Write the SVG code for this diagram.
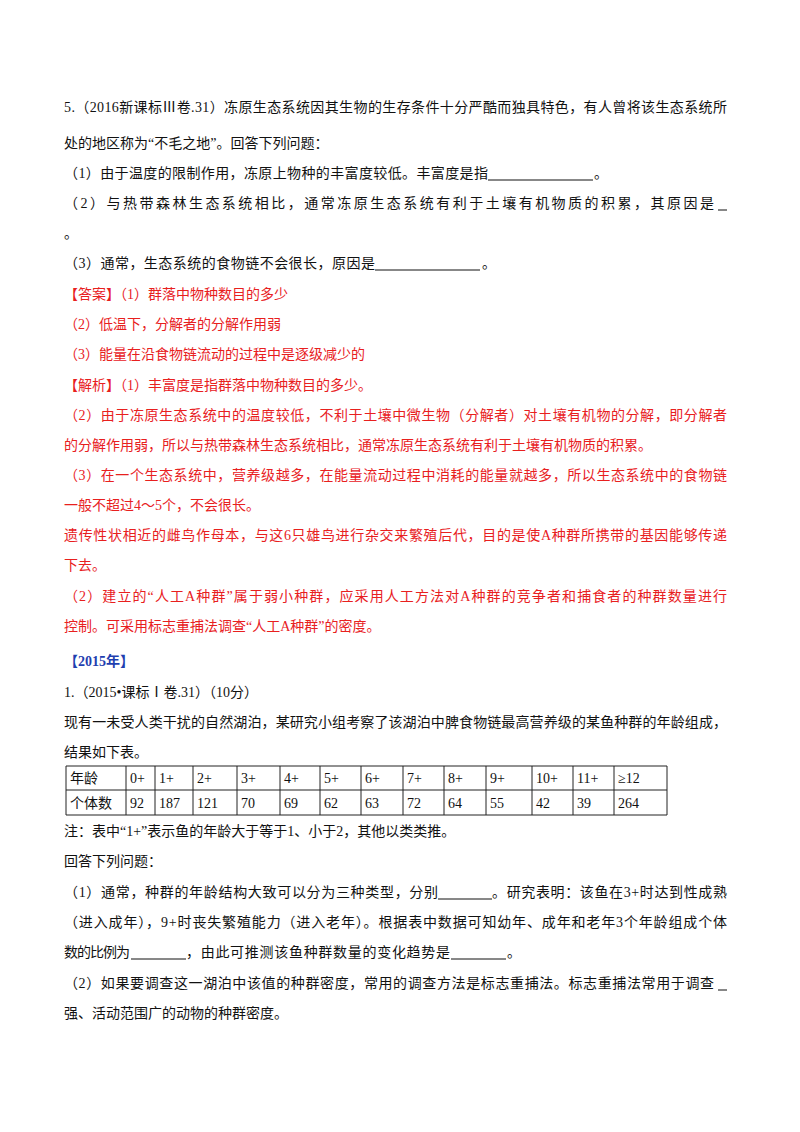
<svg xmlns="http://www.w3.org/2000/svg" width="800" height="1132" viewBox="0 0 800 1132">
<style>
text{font-family:"Liberation Serif","Noto Sans CJK SC",serif;font-size:14px;fill:#111}
.r{fill:#e8201e}
.b{fill:#1f3fb0;font-weight:bold}
.t line{stroke:#222;stroke-width:1}
.u{stroke:#111;stroke-width:1}
</style>
<rect width="800" height="1132" fill="#fff"/>
<g id="q2016">
<text x="64" y="112" textLength="663" lengthAdjust="spacing">5.（2016新课标Ⅲ卷.31）冻原生态系统因其生物的生存条件十分严酷而独具特色，有人曾将该生态系统所</text>
<text x="64" y="148">处的地区称为“不毛之地”。回答下列问题：</text>
<text x="64" y="178" textLength="424" lengthAdjust="spacing">（1）由于温度的限制作用，冻原上物种的丰富度较低。丰富度是指</text>
<line class="u" x1="488" y1="180" x2="593" y2="180"/><text x="594" y="178">。</text>
<text x="64" y="208" textLength="650" lengthAdjust="spacing">（2）与热带森林生态系统相比，通常冻原生态系统有利于土壤有机物质的积累，其原因是</text>
<line class="u" x1="718" y1="210" x2="727" y2="210"/>
<text x="64" y="238">。</text>
<text x="64" y="268" textLength="311" lengthAdjust="spacing">（3）通常，生态系统的食物链不会很长，原因是</text>
<line class="u" x1="375" y1="270" x2="480" y2="270"/><text x="482" y="268">。</text>
</g>
<g id="answer">
<text class="r" x="64" y="299">【答案】（1）群落中物种数目的多少</text>
<text class="r" x="64" y="329">（2）低温下，分解者的分解作用弱</text>
<text class="r" x="64" y="359">（3）能量在沿食物链流动的过程中是逐级减少的</text>
<text class="r" x="64" y="390">【解析】（1）丰富度是指群落中物种数目的多少。</text>
<text class="r" x="64" y="420" textLength="663" lengthAdjust="spacing">（2）由于冻原生态系统中的温度较低，不利于土壤中微生物（分解者）对土壤有机物的分解，即分解者</text>
<text class="r" x="64" y="450">的分解作用弱，所以与热带森林生态系统相比，通常冻原生态系统有利于土壤有机物质的积累。</text>
<text class="r" x="64" y="480" textLength="663" lengthAdjust="spacing">（3）在一个生态系统中，营养级越多，在能量流动过程中消耗的能量就越多，所以生态系统中的食物链</text>
<text class="r" x="64" y="510">一般不超过4～5个，不会很长。</text>
<text class="r" x="64" y="540" textLength="663" lengthAdjust="spacing">遗传性状相近的雌鸟作母本，与这6只雄鸟进行杂交来繁殖后代，目的是使A种群所携带的基因能够传递</text>
<text class="r" x="64" y="570">下去。</text>
<text class="r" x="64" y="601" textLength="663" lengthAdjust="spacing">（2）建立的“人工A种群”属于弱小种群，应采用人工方法对A种群的竞争者和捕食者的种群数量进行</text>
<text class="r" x="64" y="631">控制。可采用标志重捕法调查“人工A种群”的密度。</text>
</g>
<g id="q2015">
<text class="b" x="64" y="666">【2015年】</text>
<text x="64" y="697">1.（2015•课标Ⅰ卷.31）（10分）</text>
<text x="64" y="727" textLength="663" lengthAdjust="spacing">现有一未受人类干扰的自然湖泊，某研究小组考察了该湖泊中脾食物链最高营养级的某鱼种群的年龄组成，</text>
<text x="64" y="757">结果如下表。</text>
</g>
<g id="table" class="t">
<line x1="66" y1="766" x2="667" y2="766"/><line x1="66" y1="790" x2="667" y2="790"/><line x1="66" y1="815" x2="667" y2="815"/>
<line x1="66" y1="766" x2="66" y2="815"/><line x1="126" y1="766" x2="126" y2="815"/><line x1="155" y1="766" x2="155" y2="815"/><line x1="193" y1="766" x2="193" y2="815"/><line x1="237" y1="766" x2="237" y2="815"/><line x1="280" y1="766" x2="280" y2="815"/><line x1="320" y1="766" x2="320" y2="815"/><line x1="361" y1="766" x2="361" y2="815"/><line x1="403" y1="766" x2="403" y2="815"/><line x1="444" y1="766" x2="444" y2="815"/><line x1="486" y1="766" x2="486" y2="815"/><line x1="532" y1="766" x2="532" y2="815"/><line x1="573" y1="766" x2="573" y2="815"/><line x1="614" y1="766" x2="614" y2="815"/><line x1="667" y1="766" x2="667" y2="815"/>
<text x="70" y="783">年龄</text><text x="130" y="783">0+</text><text x="159" y="783">1+</text><text x="197" y="783">2+</text><text x="241" y="783">3+</text><text x="284" y="783">4+</text><text x="324" y="783">5+</text><text x="365" y="783">6+</text><text x="407" y="783">7+</text><text x="448" y="783">8+</text><text x="490" y="783">9+</text><text x="536" y="783">10+</text><text x="577" y="783">11+</text><text x="618" y="783">≥12</text>
<text x="70" y="808">个体数</text><text x="130" y="808">92</text><text x="159" y="808">187</text><text x="197" y="808">121</text><text x="241" y="808">70</text><text x="284" y="808">69</text><text x="324" y="808">62</text><text x="365" y="808">63</text><text x="407" y="808">72</text><text x="448" y="808">64</text><text x="490" y="808">55</text><text x="536" y="808">42</text><text x="577" y="808">39</text><text x="618" y="808">264</text>
</g>
<g id="q2015b">
<text x="64" y="836">注：表中“1+”表示鱼的年龄大于等于1、小于2，其他以类类推。</text>
<text x="64" y="866">回答下列问题：</text>
<text x="64" y="897" textLength="374" lengthAdjust="spacing">（1）通常，种群的年龄结构大致可以分为三种类型，分别</text>
<line class="u" x1="438" y1="899" x2="492" y2="899"/>
<text x="492" y="897" textLength="235" lengthAdjust="spacing">。研究表明：该鱼在3+时达到性成熟</text>
<text x="64" y="927" textLength="663" lengthAdjust="spacing">（进入成年），9+时丧失繁殖能力（进入老年）。根据表中数据可知幼年、成年和老年3个年龄组成个体</text>
<text x="64" y="957" textLength="66" lengthAdjust="spacing">数的比例为</text>
<line class="u" x1="131" y1="959" x2="186" y2="959"/>
<text x="186" y="957" textLength="264" lengthAdjust="spacing">，由此可推测该鱼种群数量的变化趋势是</text>
<line class="u" x1="451" y1="959" x2="506" y2="959"/>
<text x="507" y="957">。</text>
<text x="64" y="988" textLength="650" lengthAdjust="spacing">（2）如果要调查这一湖泊中该值的种群密度，常用的调查方法是标志重捕法。标志重捕法常用于调查</text>
<line class="u" x1="718" y1="990" x2="727" y2="990"/>
<text x="64" y="1018">强、活动范围广的动物的种群密度。</text>
</g>
</svg>
